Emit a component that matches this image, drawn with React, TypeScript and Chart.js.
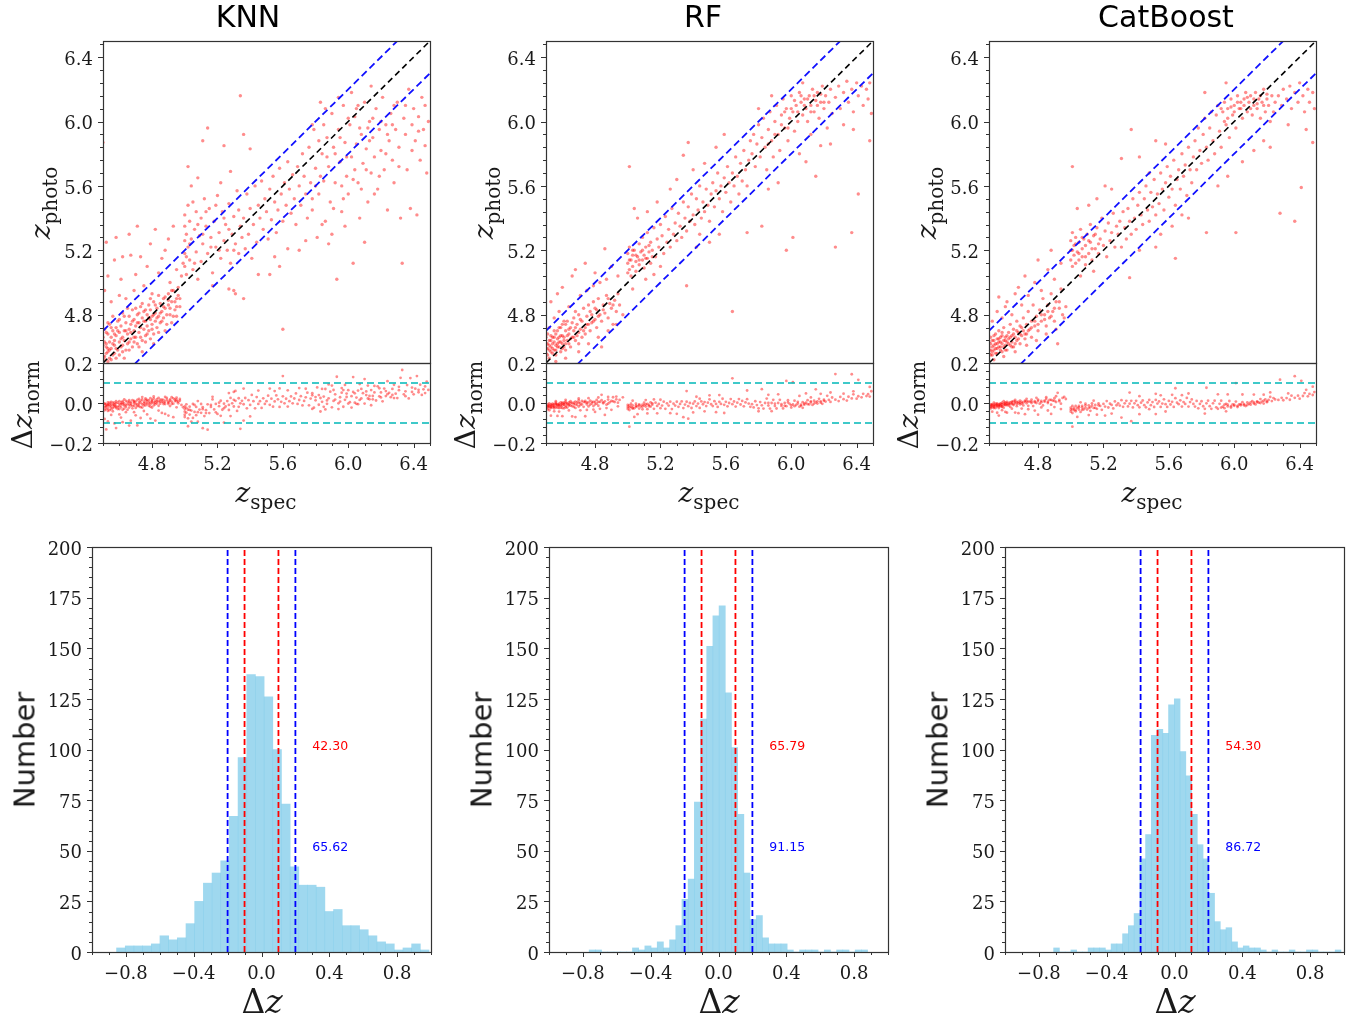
import React, { useEffect, useRef } from "react";
import { Chart, registerables } from "chart.js";
Chart.register(...registerables);

// ---------------- data ----------------
const modelNames = ["KNN", "RF", "CatBoost"];

// [z_spec, z_photo]
const knnPoints: [number, number][] = [
  [4.50,4.58],[4.50,4.66],[4.51,4.54],[4.51,4.71],[4.52,4.62],[4.52,4.60],[4.53,4.68],[4.53,4.57],[4.54,4.74],[4.54,4.63],
  [4.55,4.59],[4.55,4.66],[4.56,4.70],[4.56,4.55],[4.57,4.64],[4.57,4.61],[4.58,4.72],[4.58,4.67],[4.59,4.58],[4.59,4.76],
  [4.60,4.63],[4.60,4.69],[4.61,4.60],[4.61,4.73],[4.62,4.66],[4.62,4.81],[4.63,4.64],[4.63,4.70],[4.64,4.58],[4.64,4.75],
  [4.65,4.68],[4.65,4.62],[4.66,4.79],[4.66,4.71],[4.67,4.65],[4.67,4.74],[4.68,4.60],[4.68,4.83],[4.69,4.70],[4.69,4.77],
  [4.70,4.66],[4.70,4.73],[4.71,4.80],[4.71,4.62],[4.72,4.75],[4.72,4.69],[4.73,4.85],[4.73,4.72],[4.74,4.64],[4.74,4.78],
  [4.75,4.71],[4.75,4.82],[4.76,4.76],[4.76,4.67],[4.77,4.80],[4.77,4.73],[4.78,4.86],[4.78,4.70],[4.79,4.77],[4.79,4.83],
  [4.80,4.74],[4.80,4.79],[4.81,4.88],[4.81,4.68],[4.82,4.81],[4.82,4.76],[4.83,4.84],[4.83,4.72],[4.84,4.79],[4.85,4.87],
  [4.85,4.75],[4.86,4.82],[4.87,4.78],[4.87,4.90],[4.88,4.84],[4.89,4.74],[4.90,4.86],[4.90,4.93],[4.91,4.80],[4.92,4.88],
  [4.93,4.95],[4.94,4.83],[4.95,4.90],[4.96,4.97],[4.97,4.85],
  [4.51,4.52],[4.52,4.56],[4.53,4.51],[4.54,4.53],[4.55,4.52],[4.57,4.56],[4.58,4.53],[4.60,4.55],[4.62,4.57],[4.63,4.53],
  [4.66,4.58],[4.69,4.63],[4.72,4.60],[4.76,4.63],[4.79,4.65],[4.84,4.69],[4.88,4.70],[4.92,4.75],[4.95,4.79],[4.74,4.57],[4.81,4.62],
  [4.50,4.61],[4.50,4.54],[4.51,4.63],[4.52,4.69],[4.53,4.59],[4.53,4.75],[4.54,4.58],[4.55,4.72],[4.56,4.62],[4.56,4.79],
  [4.57,4.68],[4.58,4.59],[4.59,4.70],[4.60,4.77],[4.61,4.65],[4.62,4.61],[4.63,4.79],[4.64,4.70],[4.65,4.84],[4.66,4.63],
  [4.67,4.69],[4.68,4.76],[4.69,4.66],[4.70,4.84],[4.71,4.75],[4.72,4.81],[4.73,4.66],[4.74,4.87],[4.75,4.76],[4.76,4.83],
  [4.77,4.68],[4.78,4.78],[4.79,4.90],[4.80,4.71],[4.81,4.80],[4.82,4.86],[4.83,4.78],[4.84,4.92],[4.85,4.81],[4.86,4.76],
  [4.87,4.85],[4.88,4.91],[4.89,4.80],[4.90,4.89],[4.91,4.84],[4.92,4.95],[4.93,4.79],[4.94,4.88],[4.95,4.85],[4.96,4.92],
  [4.51,4.95],[4.52,5.25],[4.53,5.04],[4.55,4.88],[4.57,5.14],[4.58,5.28],[4.60,4.92],[4.61,5.02],[4.62,5.16],[4.64,4.90],
  [4.66,5.30],[4.67,5.17],[4.69,4.95],[4.70,5.05],[4.71,5.35],[4.73,5.16],[4.75,4.98],[4.77,5.10],[4.79,5.24],[4.80,4.93],
  [4.82,5.33],[4.84,5.06],[4.86,5.15],[4.88,5.20],[4.90,5.27],[4.91,5.00],[4.93,5.35],[4.95,5.08],[4.50,5.87],
  [5.00,5.10],[5.00,5.18],[5.00,5.26],[5.00,5.35],[5.00,5.42],[5.01,5.05],[5.01,5.30],[5.02,5.22],[5.02,5.48],[5.03,5.14],
  [5.03,5.38],[5.04,5.27],[5.05,5.50],[5.05,5.08],[5.06,5.33],[5.07,5.19],[5.07,5.44],[5.08,5.02],[5.09,5.29],[5.10,5.40],
  [5.10,5.13],[5.11,5.24],[5.12,5.52],[5.13,5.35],[5.14,5.18],[5.15,5.46],[5.16,5.28],[5.17,5.06],[5.18,5.38],[5.19,5.22],
  [5.20,5.54],[5.21,5.31],[5.22,5.15],[5.23,5.44],[5.24,5.26],[5.25,5.36],[5.26,5.20],[5.27,5.49],[5.28,5.12],[5.29,5.30],
  [5.30,5.41],[5.31,5.24],[5.32,5.57],[5.33,5.18],[5.34,5.35],[5.35,5.28],[5.02,5.72],[5.04,5.60],[5.08,5.65],[5.14,5.96],
  [5.11,5.88],[5.24,5.85],[5.34,6.16],[5.36,5.92],[5.17,4.98],[5.27,4.96],[5.30,4.95],[5.22,5.62],[5.28,5.69],[5.40,5.83],
  [5.01,5.16],[5.03,5.24],[5.06,5.12],[5.08,5.36],[5.11,5.30],[5.13,5.44],[5.16,5.22],[5.19,5.48],[5.21,5.20],[5.24,5.40],
  [5.27,5.33],[5.30,5.20],[5.33,5.45],
  [4.98,5.04],[4.99,5.12],[4.97,4.90],
  [5.36,5.40],[5.37,5.21],[5.38,5.55],[5.39,5.30],[5.40,5.46],[5.41,5.15],[5.42,5.36],[5.43,5.60],[5.44,5.25],[5.45,5.48],
  [5.46,5.40],[5.47,5.63],[5.48,5.33],[5.49,5.52],[5.50,5.44],[5.51,5.27],[5.52,5.58],[5.53,5.39],[5.54,5.66],[5.55,5.50],
  [5.56,5.31],[5.57,5.45],[5.58,5.71],[5.59,5.55],[5.60,5.38],[5.61,5.62],[5.62,5.48],[5.63,5.75],[5.64,5.58],[5.65,5.43],
  [5.66,5.67],[5.67,5.52],[5.68,5.36],[5.69,5.72],[5.70,5.60],[5.71,5.48],[5.72,5.80],[5.73,5.66],[5.74,5.55],[5.75,5.40],
  [5.31,4.93],[5.36,4.90],[5.52,5.05],[5.58,5.10],[5.60,4.71],[5.55,5.16],[5.63,5.21],[5.45,5.05],
  [5.76,5.84],[5.77,5.62],[5.78,5.45],[5.79,5.95],[5.80,5.71],[5.81,5.28],[5.82,5.55],[5.83,6.12],[5.84,5.80],[5.85,5.63],
  [5.86,5.38],[5.87,5.90],[5.88,5.72],[5.89,5.50],[5.90,6.05],[5.91,5.84],[5.92,5.62],[5.93,5.02],[5.94,5.95],[5.95,5.75],
  [5.96,5.44],[5.97,6.10],[5.98,5.87],[5.99,5.66],[6.00,5.55],[6.01,5.98],[6.02,5.78],[6.03,5.12],[6.04,6.03],[6.05,5.86],
  [6.06,5.62],[6.07,5.40],[6.08,5.92],[6.09,5.74],[6.10,6.12],[6.11,5.83],[6.12,5.50],[6.13,6.00],[6.14,5.68],[6.15,5.90],
  [6.16,5.78],[6.17,6.08],[6.18,5.58],[6.19,5.95],[6.20,5.82],[6.21,6.15],[6.22,5.70],[6.23,5.98],[6.24,5.45],[6.25,5.88],
  [6.26,6.05],[6.27,5.76],[6.28,5.62],[6.29,5.95],[6.30,6.12],[6.31,5.84],[6.32,5.40],[6.33,5.12],[6.34,6.02],[6.35,5.92],
  [6.36,5.70],[6.37,6.20],[6.38,5.46],[6.39,5.98],[6.40,6.08],[6.41,5.88],[6.42,5.42],[6.43,6.03],[6.44,5.76],[6.45,6.15],
  [6.46,5.95],[6.47,6.10],[6.48,5.68],[6.49,6.00],
  [5.78,5.98],[5.82,5.88],[5.86,6.08],[5.90,5.30],[5.94,6.15],[5.98,5.35],[6.02,6.18],[6.06,6.10],[6.10,5.25],[6.14,6.22],
  [5.84,5.36],[5.88,5.24],[5.96,5.60],[6.00,6.02],[6.04,5.70],[6.08,5.58],[6.12,5.96],[6.16,5.55],[6.20,6.00],[6.24,5.92],
  [5.92,5.80],[5.80,5.60],[5.74,5.26],[5.70,5.20],[6.28,6.10],
  [5.78,5.52],[5.83,5.66],[5.87,5.78],[5.91,5.46],[5.95,5.90],[5.99,5.78],[6.03,5.64],[6.07,5.96],[6.11,5.70],[6.15,6.02],
  [6.19,5.66],[6.23,5.80],[6.27,5.98],[6.31,5.72],[6.35,6.10],[6.39,5.82],[6.43,5.94],[6.47,5.85],[5.85,5.98],[5.97,5.52],
  [6.05,6.08],[6.13,5.88],
];

const rfPoints: [number, number][] = [
  [4.50,4.56],[4.50,4.62],[4.51,4.59],[4.51,4.68],[4.52,4.53],[4.52,4.64],[4.53,4.60],[4.53,4.57],[4.54,4.66],[4.54,4.62],
  [4.55,4.58],[4.55,4.70],[4.56,4.61],[4.56,4.55],[4.57,4.65],[4.57,4.60],[4.58,4.72],[4.58,4.63],[4.59,4.57],[4.59,4.67],
  [4.60,4.62],[4.60,4.74],[4.61,4.60],[4.61,4.66],[4.62,4.70],[4.62,4.58],[4.63,4.64],[4.63,4.76],[4.64,4.68],[4.64,4.62],
  [4.65,4.72],[4.65,4.60],[4.66,4.66],[4.67,4.78],[4.67,4.70],[4.68,4.64],[4.69,4.74],[4.69,4.67],[4.70,4.80],[4.70,4.62],
  [4.71,4.71],[4.72,4.76],[4.72,4.66],[4.73,4.84],[4.74,4.72],[4.74,4.68],[4.75,4.79],[4.76,4.74],[4.76,4.86],[4.77,4.70],
  [4.78,4.80],[4.78,4.75],[4.79,4.88],[4.80,4.77],[4.81,4.83],[4.81,4.72],[4.82,4.90],[4.83,4.80],[4.84,4.76],[4.85,4.86],
  [4.86,4.81],[4.87,4.92],[4.88,4.78],[4.89,4.87],[4.90,4.84],[4.91,4.74],[4.92,4.89],[4.93,4.82],[4.94,4.93],[4.95,4.86],
  [4.50,4.59],[4.50,4.66],[4.51,4.55],[4.51,4.62],[4.52,4.58],[4.52,4.61],[4.53,4.64],[4.53,4.67],[4.54,4.59],[4.54,4.56],
  [4.55,4.63],[4.55,4.66],[4.56,4.58],[4.56,4.68],[4.57,4.62],[4.57,4.70],[4.58,4.60],[4.58,4.66],[4.59,4.63],[4.59,4.72],
  [4.60,4.59],[4.60,4.67],[4.61,4.64],[4.62,4.62],[4.62,4.74],[4.63,4.67],[4.64,4.71],[4.65,4.65],[4.66,4.75],[4.67,4.66],
  [4.68,4.72],[4.70,4.69],[4.71,4.77],[4.73,4.70],[4.75,4.74],[4.77,4.82],[4.79,4.76],[4.80,4.84],[4.82,4.79],[4.85,4.83],
  [4.88,4.90],[4.91,4.86],
  [4.52,4.72],[4.55,4.78],[4.58,4.82],[4.61,4.76],[4.64,4.85],[4.68,4.82],[4.71,4.92],[4.75,4.95],[4.79,4.98],[4.83,5.00],
  [4.87,5.02],[4.53,4.88],[4.57,4.93],[4.60,4.97],[4.66,5.04],[4.68,5.08],[4.74,5.12],[4.80,5.06],[4.86,5.21],[4.90,5.10],
  [4.94,5.04],[4.49,5.28],[4.56,4.51],[4.62,4.53],[4.70,4.57],[4.76,4.62],[4.82,4.66],[4.88,4.70],[4.93,4.74],[4.97,4.80],[4.84,4.60],
  [5.00,5.06],[5.00,5.12],[5.00,5.18],[5.01,5.08],[5.01,5.22],[5.02,5.14],[5.02,5.04],[5.03,5.17],[5.03,5.10],[5.04,5.20],
  [5.04,5.46],[5.05,5.13],[5.05,5.07],[5.06,5.16],[5.07,5.24],[5.07,5.11],[5.08,5.19],[5.09,5.14],[5.09,5.28],[5.10,5.17],
  [5.10,5.09],[5.11,5.22],[5.12,5.15],[5.12,5.31],[5.13,5.19],[5.14,5.12],[5.14,5.25],[5.15,5.20],[5.16,5.34],[5.17,5.16],
  [5.18,5.27],[5.19,5.22],[5.20,5.36],[5.20,5.10],[5.01,5.72],[5.03,4.96],[5.06,5.40],[5.11,5.02],[5.16,5.05],
  [5.01,5.14],[5.03,5.20],[5.05,5.17],[5.07,5.14],[5.09,5.20],[5.11,5.15],[5.13,5.23],[5.15,5.16],
  [5.21,5.29],[5.22,5.18],[5.23,5.41],[5.24,5.25],[5.25,5.33],[5.26,5.22],[5.27,5.46],[5.28,5.30],[5.29,5.37],[5.30,5.26],
  [5.31,5.43],[5.32,5.35],[5.33,5.28],[5.34,5.50],[5.35,5.40],[5.36,5.32],[5.37,5.47],[5.38,5.38],[5.39,5.55],[5.40,5.42],
  [5.41,5.36],[5.42,5.52],[5.43,5.45],[5.44,5.60],[5.45,5.40],[5.46,5.50],[5.47,5.44],[5.48,5.58],[5.49,5.48],[5.50,5.38],
  [5.51,5.55],[5.52,5.62],[5.53,5.47],[5.54,5.57],[5.55,5.68],[5.56,5.52],[5.57,5.60],[5.58,5.44],[5.59,5.65],[5.60,5.56],
  [5.61,5.72],[5.62,5.62],[5.63,5.50],[5.64,5.68],[5.65,5.60],[5.66,5.78],[5.67,5.66],[5.68,5.55],[5.69,5.74],[5.70,5.63],
  [5.71,5.82],[5.72,5.70],[5.73,5.60],[5.74,5.76],[5.75,5.88],
  [5.36,4.98],[5.37,5.87],[5.34,5.79],[5.42,5.22],[5.50,5.25],[5.56,5.30],[5.64,4.82],[5.73,5.31],[5.82,5.35],[5.26,5.58],
  [5.30,5.64],[5.18,5.50],[5.12,5.44],[5.40,5.70],[5.47,5.74],[5.59,5.92],[5.54,5.84],[5.44,5.30],
  [5.76,5.80],[5.77,5.92],[5.78,5.72],[5.79,5.86],[5.80,5.98],[5.81,5.78],[5.82,5.90],[5.83,6.02],[5.84,5.84],[5.85,5.70],
  [5.86,5.95],[5.87,6.06],[5.88,5.88],[5.89,5.78],[5.90,6.00],[5.91,6.10],[5.92,5.92],[5.93,5.82],[5.94,6.04],[5.95,6.14],
  [5.96,5.96],[5.97,6.08],[5.98,5.88],[5.99,6.02],[6.00,6.16],[6.01,6.06],[6.02,5.94],[6.03,6.10],[6.04,6.00],[6.05,6.18],
  [6.06,6.12],[6.07,6.04],[6.08,6.14],[6.09,6.08],[6.10,6.00],[6.11,6.16],[6.12,6.10],[6.13,6.20],[6.14,6.06],[6.15,6.13],
  [6.16,6.18],[6.17,6.02],[6.18,6.12],[6.19,6.22],[6.20,6.08],[6.21,6.16],[6.22,5.96],[6.23,6.12],[6.24,6.20],[6.25,6.05],
  [6.00,6.08],[6.02,6.13],[6.04,6.06],[6.06,6.16],[6.08,6.10],[6.10,6.14],[6.12,6.06],[6.14,6.16],[6.16,6.10],[6.18,6.17],
  [6.20,6.12],[5.94,5.98],[5.96,6.06],[5.98,5.96],[5.90,5.92],[5.86,5.86],
  [5.97,5.20],[6.01,5.28],[6.09,5.75],[6.15,5.66],[6.27,5.22],[6.24,5.86],[5.92,5.62],[5.86,5.58],[6.05,5.80],[6.18,5.85],
  [5.80,6.08],[5.88,6.16],[6.07,6.24],[6.12,5.92],
  [6.27,6.15],[6.29,6.22],[6.30,6.08],[6.32,6.18],[6.34,6.25],[6.35,6.12],[6.37,6.20],[6.38,6.06],[6.40,6.24],[6.41,6.16],
  [6.43,6.22],[6.44,6.10],[6.46,6.20],[6.47,6.14],[6.48,6.24],[6.49,6.05],[6.37,5.31],[6.41,5.55],[6.48,5.88],[6.32,5.98],[6.38,5.95],
];

const cbPoints: [number, number][] = [
  [4.50,4.58],[4.50,4.63],[4.51,4.55],[4.51,4.66],[4.52,4.60],[4.52,4.57],[4.53,4.64],[4.53,4.61],[4.54,4.56],[4.54,4.68],
  [4.55,4.62],[4.55,4.59],[4.56,4.65],[4.56,4.70],[4.57,4.60],[4.57,4.63],[4.58,4.67],[4.58,4.57],[4.59,4.64],[4.59,4.72],
  [4.60,4.61],[4.60,4.66],[4.61,4.63],[4.61,4.58],[4.62,4.69],[4.62,4.65],[4.63,4.74],[4.63,4.61],[4.64,4.67],[4.64,4.63],
  [4.65,4.71],[4.65,4.60],[4.66,4.66],[4.67,4.76],[4.67,4.64],[4.68,4.69],[4.69,4.73],[4.69,4.62],[4.70,4.67],[4.71,4.78],
  [4.71,4.70],[4.72,4.65],[4.73,4.74],[4.73,4.68],[4.74,4.82],[4.75,4.71],[4.76,4.76],[4.76,4.66],[4.77,4.86],[4.78,4.73],
  [4.79,4.79],[4.80,4.70],[4.81,4.83],[4.82,4.76],[4.83,4.90],[4.84,4.80],[4.85,4.73],[4.86,4.86],[4.87,4.78],[4.88,4.93],
  [4.89,4.82],[4.90,4.76],[4.91,4.88],[4.92,4.62],[4.93,4.84],[4.94,4.96],[4.95,4.80],
  [4.50,4.60],[4.50,4.56],[4.51,4.62],[4.51,4.58],[4.52,4.64],[4.52,4.55],[4.53,4.58],[4.53,4.67],[4.54,4.62],[4.54,4.59],
  [4.55,4.65],[4.55,4.56],[4.56,4.60],[4.56,4.63],[4.57,4.66],[4.57,4.58],[4.58,4.62],[4.58,4.69],[4.59,4.60],[4.60,4.64],
  [4.60,4.58],[4.61,4.67],[4.62,4.62],[4.63,4.66],[4.64,4.60],[4.65,4.68],[4.66,4.62],[4.67,4.70],[4.68,4.65],[4.69,4.68],
  [4.70,4.72],[4.72,4.68],[4.74,4.70],[4.76,4.72],[4.78,4.76],[4.80,4.74],[4.82,4.80],[4.84,4.77],[4.86,4.82],[4.88,4.79],
  [4.90,4.84],[4.93,4.88],
  [4.52,4.76],[4.55,4.82],[4.58,4.78],[4.61,4.88],[4.64,4.80],[4.68,4.97],[4.70,4.86],[4.74,4.92],[4.78,5.00],[4.82,4.95],
  [4.86,5.08],[4.90,5.02],[4.94,5.12],[4.49,5.19],[4.56,4.91],[4.60,4.85],[4.66,4.93],[4.72,5.04],[4.80,5.14],[4.88,5.20],
  [4.53,4.52],[4.59,4.54],[4.66,4.57],[4.73,4.61],[4.79,4.64],[4.85,4.68],[4.91,4.71],[4.97,4.85],[4.96,4.78],
  [5.00,5.14],[5.00,5.20],[5.00,5.26],[5.01,5.10],[5.01,5.31],[5.02,5.17],[5.02,5.23],[5.03,5.12],[5.03,5.28],[5.04,5.19],
  [5.05,5.25],[5.05,5.14],[5.06,5.33],[5.07,5.21],[5.07,5.16],[5.08,5.27],[5.09,5.11],[5.09,5.23],[5.10,5.30],[5.11,5.18],
  [5.12,5.25],[5.12,5.36],[5.13,5.14],[5.14,5.29],[5.15,5.21],[5.16,5.34],[5.17,5.18],[5.18,5.27],[5.19,5.40],[5.20,5.23],
  [5.21,5.32],[5.22,5.16],[5.23,5.37],[5.24,5.26],[5.25,5.31],[5.26,5.43],[5.27,5.22],[5.28,5.35],[5.29,5.30],[5.30,5.38],
  [5.01,5.20],[5.03,5.24],[5.05,5.18],[5.07,5.28],[5.09,5.16],[5.11,5.26],[5.13,5.21],[5.15,5.30],[5.17,5.24],
  [5.01,5.72],[5.04,5.46],[5.11,5.48],[5.16,5.52],[5.21,5.60],[5.25,5.58],[5.06,5.04],[5.14,5.07],
  [5.31,5.22],[5.32,5.44],[5.33,5.34],[5.34,5.27],[5.35,5.46],[5.36,5.38],[5.37,5.30],[5.38,5.52],[5.39,5.40],[5.40,5.33],
  [5.41,5.48],[5.42,5.56],[5.43,5.42],[5.44,5.36],[5.45,5.52],[5.46,5.60],[5.47,5.45],[5.48,5.38],[5.49,5.56],[5.50,5.47],
  [5.51,5.64],[5.52,5.42],[5.53,5.55],[5.54,5.49],[5.55,5.68],[5.56,5.58],[5.57,5.45],[5.58,5.62],[5.59,5.72],[5.60,5.53],
  [5.61,5.66],[5.62,5.58],[5.63,5.76],[5.64,5.48],[5.65,5.64],[5.66,5.70],[5.67,5.58],[5.68,5.80],[5.69,5.66],[5.70,5.73],
  [5.71,5.54],[5.72,5.84],[5.73,5.70],[5.74,5.62],[5.75,5.78],
  [5.37,5.95],[5.31,5.77],[5.42,5.78],[5.36,5.03],[5.64,5.15],[5.48,5.68],[5.52,5.88],[5.58,5.86],[5.42,5.20],[5.55,5.30],
  [5.62,5.35],[5.68,5.42],[5.72,5.40],[5.52,5.22],
  [5.76,5.88],[5.77,5.70],[5.78,5.96],[5.79,5.82],[5.80,5.74],[5.81,5.92],[5.82,6.02],[5.83,5.84],[5.84,5.76],[5.85,5.96],
  [5.86,6.06],[5.87,5.88],[5.88,5.80],[5.89,6.04],[5.90,6.10],[5.91,5.94],[5.92,5.84],[5.93,6.06],[5.94,6.12],[5.95,5.98],
  [5.96,6.08],[5.97,5.90],[5.98,6.14],[5.99,6.04],[6.00,6.10],[6.01,5.96],[6.02,6.16],[6.03,6.08],[6.04,6.12],[6.05,6.02],
  [6.06,6.14],[6.07,6.18],[6.08,6.06],[6.09,6.12],[6.10,6.16],[6.11,6.04],[6.12,6.10],[6.13,6.18],[6.14,6.08],[6.15,6.14],
  [6.16,6.02],[6.17,6.12],[6.18,6.20],[6.19,6.06],[6.20,6.14],[6.21,6.10],[6.22,6.00],[6.23,6.16],[6.24,6.06],[6.25,6.12],
  [6.00,6.06],[6.02,6.12],[6.04,6.08],[6.06,6.10],[6.08,6.15],[6.10,6.08],[6.12,6.14],[6.14,6.11],[6.16,6.16],[6.18,6.10],
  [6.20,6.17],[5.96,6.02],[5.98,6.09],[5.94,6.00],[5.92,6.08],
  [5.83,5.31],[6.01,5.31],[6.28,5.43],[6.37,5.38],[6.41,5.59],[6.48,5.87],[5.90,5.60],[5.96,5.66],[6.05,5.75],[6.12,5.82],
  [6.18,5.88],[5.82,6.18],[5.95,6.24],[6.22,5.84],
  [6.27,6.16],[6.29,6.10],[6.30,6.20],[6.32,6.14],[6.34,6.22],[6.35,6.08],[6.37,6.18],[6.39,6.12],[6.40,6.24],[6.42,6.16],
  [6.43,6.06],[6.45,6.20],[6.46,6.12],[6.48,6.18],[6.49,6.08],[6.33,5.98],[6.44,5.95],
];

// histograms of Δz: first bin edge, bin width, counts
const knnBinStart = -0.855;
const knnBinWidth = 0.0512;
const knnCounts = [2,3,3,3,4,8,6,7,14,25,34,39,45,67,96,137,136,126,100,73,42,33,33,32,20,21,13,13,11,8,5,4,1,2,4,1];
const rfBinStart = -0.763;
const rfBinWidth = 0.0365;
const rfCounts = [1,1,0,0,0,0,0,2,1,3,2,5,2,6,13,26,36,74,115,151,166,171,128,101,68,39,16,18,7,4,4,4,1,0,1,1,1,0,1,0,1,1,0,1,1];
const cbBinStart = -0.713;
const cbBinWidth = 0.0339;
const cbCounts = [2,0,0,1,0,0,2,2,2,1,4,4,9,13,19,46,58,107,110,108,122,125,99,87,68,53,46,29,15,11,12,5,2,3,2,2,1,0,1,0,0,1,0,0,1,1,0,0,0,1];

const within01 = ["42.30", "65.79", "54.30"];
const within02 = ["65.62", "91.15", "86.72"];
const textX = 0.3;
const textY01 = 100;
const textY02 = 50;

const zRange = [4.5, 6.5];
const zTicks = [4.8, 5.2, 5.6, 6.0, 6.4];
const bandOffset = 0.2;
const residRange = [-0.2, 0.2];
const residTicks = [-0.2, 0.0, 0.2];
const residLimit = 0.1;
const histXRange = [-1, 1];
const histXTicks = [-0.8, -0.4, 0.0, 0.4, 0.8];
const histYRange = [0, 200];
const histYTicks = [0, 25, 50, 75, 100, 125, 150, 175, 200];
const histInner = 0.1;
const histOuter = 0.2;

// ---------------- helpers ----------------
const fmt1 = (v: number) => (v < -1e-9 ? "\u2212" : "") + Math.abs(v).toFixed(1);
const fmt0 = (v: number) => String(Math.round(v));

function minorValues(anchor: number, step: number, min: number, max: number, majors: number[]) {
  const out: number[] = [];
  const kMin = Math.ceil((min - anchor) / step - 1e-6);
  const kMax = Math.floor((max - anchor) / step + 1e-6);
  for (let k = kMin; k <= kMax; k++) {
    const v = anchor + k * step;
    if (!majors.some((m) => Math.abs(m - v) < 1e-6)) out.push(v);
  }
  return out;
}

const mplFrame = {
  id: "mplFrame",
  afterDraw(chart: any, _args: any, opts: any) {
    const { ctx, chartArea: a, scales } = chart;
    ctx.save();
    ctx.strokeStyle = "#333";
    ctx.lineWidth = 1;
    const tick = (horiz: boolean, scale: any, vals: number[] | undefined, len: number) => {
      if (!vals) return;
      for (const v of vals) {
        const p = Math.round(scale.getPixelForValue(v)) + 0.5;
        ctx.beginPath();
        if (horiz) {
          ctx.moveTo(p, a.bottom);
          ctx.lineTo(p, a.bottom + len);
        } else {
          ctx.moveTo(a.left - len, p);
          ctx.lineTo(a.left, p);
        }
        ctx.stroke();
      }
    };
    tick(true, scales.x, opts.xMajor, 5);
    tick(true, scales.x, opts.xMinor, 3);
    tick(false, scales.y, opts.yMajor, 5);
    tick(false, scales.y, opts.yMinor, 3);
    ctx.lineWidth = 1.2;
    ctx.strokeRect(Math.round(a.left) + 0.5, Math.round(a.top) + 0.5, Math.round(a.right - a.left), Math.round(a.bottom - a.top));
    if (opts.texts) {
      ctx.font = "12.5px 'DejaVu Sans'";
      ctx.textAlign = "left";
      ctx.textBaseline = "alphabetic";
      for (const t of opts.texts) {
        ctx.fillStyle = t.color;
        ctx.fillText(t.text, scales.x.getPixelForValue(t.x), scales.y.getPixelForValue(t.y));
      }
    }
    ctx.restore();
  },
};

function linAxis(o: { min: number; max: number; ticks: number[]; fmt: (v: number) => string; size: number; horiz: boolean; show: boolean; pad?: number }) {
  return {
    type: "linear",
    min: o.min,
    max: o.max,
    offset: false,
    display: o.show,
    position: o.horiz ? "bottom" : "left",
    afterBuildTicks: (s: any) => {
      s.ticks = o.ticks.map((v) => ({ value: v }));
    },
    afterFit: (s: any) => {
      if (o.horiz) s.height = o.size;
      else s.width = o.size;
    },
    grid: { display: false, drawTicks: true, tickLength: 5 },
    border: { display: false },
    ticks: {
      color: "#1a1a1a",
      padding: o.pad ?? 5,
      labelOffset: o.horiz ? 0 : 3,
      font: { family: "'DejaVu Serif'", size: 18 },
      maxRotation: 0,
      autoSkip: false,
      callback: (v: any) => o.fmt(Number(v)),
    },
  };
}

function lineDs(pts: { x: number; y: number }[], color: string, dash: number[], width: number) {
  return {
    data: pts,
    showLine: true,
    borderColor: color,
    borderDash: dash,
    borderWidth: width,
    pointRadius: 0,
    fill: false,
    order: 0,
  };
}

type Box = { left: number; top: number; width: number; height: number; ml: number; mr: number; mt: number; mb: number };

function basicOptions(box: Box, extra: any) {
  return {
    animation: false,
    responsive: false,
    maintainAspectRatio: false,
    events: [],
    layout: { padding: { top: box.mt, right: box.mr, bottom: extra.padBottom ?? 0, left: 0 } },
    plugins: { legend: { display: false }, tooltip: { enabled: false }, mplFrame: extra.frame },
    scales: extra.scales,
  };
}

const pointColor = "rgba(255,0,0,0.45)";

function scatterConfig(points: [number, number][], box: Box) {
  const [lo, hi] = zRange;
  return {
    type: "scatter",
    data: {
      datasets: [
        lineDs([{ x: lo, y: lo }, { x: hi, y: hi }], "#000000", [6, 4], 1.6),
        lineDs([{ x: lo, y: lo + bandOffset }, { x: hi, y: hi + bandOffset }], "#1010ff", [7, 4], 1.8),
        lineDs([{ x: lo, y: lo - bandOffset }, { x: hi, y: hi - bandOffset }], "#1010ff", [7, 4], 1.8),
        {
          data: points.map(([s, p]) => ({ x: s, y: p })),
          pointRadius: 1.7,
          backgroundColor: pointColor,
          pointBackgroundColor: pointColor,
          pointBorderWidth: 0,
          borderWidth: 0,
          order: 1,
        },
      ],
    },
    options: basicOptions(box, {
      padBottom: box.mb,
      frame: { yMajor: zTicks, yMinor: minorValues(4.8, 0.08, lo, hi, zTicks) },
      scales: {
        x: linAxis({ min: lo, max: hi, ticks: zTicks, fmt: fmt1, size: 0, horiz: true, show: false }),
        y: linAxis({ min: lo, max: hi, ticks: zTicks, fmt: fmt1, size: box.ml, horiz: false, show: true }),
      },
    }),
    plugins: [mplFrame],
  };
}

function residualConfig(points: [number, number][], box: Box) {
  const [lo, hi] = zRange;
  const resid = points.map(([s, p]) => ({ x: s, y: (s - p) / (1 + s) }));
  return {
    type: "scatter",
    data: {
      datasets: [
        lineDs([{ x: lo, y: residLimit }, { x: hi, y: residLimit }], "#00b8b8", [7, 4], 1.5),
        lineDs([{ x: lo, y: -residLimit }, { x: hi, y: -residLimit }], "#00b8b8", [7, 4], 1.5),
        {
          data: resid,
          pointRadius: 1.4,
          backgroundColor: pointColor,
          pointBackgroundColor: pointColor,
          pointBorderWidth: 0,
          borderWidth: 0,
          order: 1,
        },
      ],
    },
    options: basicOptions(box, {
      frame: {
        xMajor: zTicks,
        xMinor: minorValues(4.8, 0.1, lo, hi, zTicks),
        yMajor: residTicks,
        yMinor: minorValues(0, 0.04, residRange[0], residRange[1], residTicks),
      },
      scales: {
        x: linAxis({ min: lo, max: hi, ticks: zTicks, fmt: fmt1, size: box.mb, horiz: true, show: true, pad: 7 }),
        y: linAxis({ min: residRange[0], max: residRange[1], ticks: residTicks, fmt: fmt1, size: box.ml, horiz: false, show: true }),
      },
    }),
    plugins: [mplFrame],
  };
}

function histConfig(start: number, width: number, counts: number[], t01: string, t02: string, box: Box) {
  const [y0, y1] = histYRange;
  const vline = (x: number, color: string) => lineDs([{ x, y: y0 }, { x, y: y1 }], color, [6, 3], 1.8);
  return {
    type: "bar",
    data: {
      datasets: [
        { ...vline(-histOuter, "#0000ff"), type: "line" },
        { ...vline(histOuter, "#0000ff"), type: "line" },
        { ...vline(-histInner, "#ff0000"), type: "line" },
        { ...vline(histInner, "#ff0000"), type: "line" },
        {
          type: "bar",
          data: counts.map((c, i) => ({ x: start + (i + 0.5) * width, y: c })),
          backgroundColor: "rgba(135,206,235,0.8)",
          borderWidth: 0,
          barPercentage: 1,
          categoryPercentage: 1,
          order: 1,
        },
      ],
    },
    options: basicOptions(box, {
      frame: {
        xMajor: histXTicks,
        xMinor: minorValues(0, 0.1, histXRange[0], histXRange[1], histXTicks),
        yMajor: histYTicks,
        yMinor: minorValues(0, 5, y0, y1, histYTicks),
        texts: [
          { x: textX, y: textY01, text: t01, color: "#ff0000" },
          { x: textX, y: textY02, text: t02, color: "#0000ff" },
        ],
      },
      scales: {
        x: linAxis({ min: histXRange[0], max: histXRange[1], ticks: histXTicks, fmt: fmt1, size: box.mb, horiz: true, show: true, pad: 7 }),
        y: linAxis({ min: y0, max: y1, ticks: histYTicks, fmt: fmt0, size: box.ml, horiz: false, show: true }),
      },
    }),
    plugins: [mplFrame],
  };
}

function ChartPanel({ box, make }: { box: Box; make: () => any }) {
  const ref = useRef<HTMLCanvasElement | null>(null);
  useEffect(() => {
    if (!ref.current) return;
    const chart = new Chart(ref.current, make());
    return () => chart.destroy();
  }, []);
  const W = box.width + box.ml + box.mr;
  const H = box.height + box.mt + box.mb;
  return (
    <div style={{ position: "absolute", left: box.left - box.ml, top: box.top - box.mt, width: W, height: H }}>
      <canvas ref={ref} width={W} height={H} style={{ width: W, height: H, display: "block" }} />
    </div>
  );
}

function Label({ x, y, rotate, style, children }: { x: number; y: number; rotate?: boolean; style?: any; children: any }) {
  return (
    <div
      style={{
        position: "absolute",
        left: x,
        top: y,
        transform: `translate(-50%,-50%)${rotate ? " rotate(-90deg)" : ""}`,
        whiteSpace: "nowrap",
        lineHeight: 1,
        color: "#1a1a1a",
        zIndex: 5,
        ...style,
      }}
    >
      {children}
    </div>
  );
}

const serif = "'DejaVu Serif', serif";
const sans = "'DejaVu Sans', sans-serif";

export default function App() {
  const scatterLeft = [103, 546, 989];
  const histLeft = [92, 549, 1005];
  const pts = [knnPoints, rfPoints, cbPoints];
  const hist = [
    [knnBinStart, knnBinWidth, knnCounts],
    [rfBinStart, rfBinWidth, rfCounts],
    [cbBinStart, cbBinWidth, cbCounts],
  ] as [number, number, number[]][];
  const titleX = [248, 703, 1166];

  return (
    <div style={{ position: "absolute", left: 0, top: 0, width: 1361, height: 1025, background: "#fff", overflow: "hidden" }}>
      {modelNames.map((name, i) => {
        const sBox: Box = { left: scatterLeft[i], top: 41, width: 327, height: 322, ml: 70, mr: 12, mt: 22, mb: 22 };
        const rBox: Box = { left: scatterLeft[i], top: 363, width: 327, height: 80, ml: 70, mr: 12, mt: 22, mb: 45 };
        const hBox: Box = { left: histLeft[i], top: 547, width: 339, height: 405, ml: 60, mr: 12, mt: 22, mb: 45 };
        const [hs, hw, hc] = hist[i];
        const cx = scatterLeft[i] + 163;
        const hx = histLeft[i] + 170;
        return (
          <React.Fragment key={name}>
            <ChartPanel box={sBox} make={() => scatterConfig(pts[i], sBox)} />
            <ChartPanel box={rBox} make={() => residualConfig(pts[i], rBox)} />
            <ChartPanel box={hBox} make={() => histConfig(hs, hw, hc, within01[i], within02[i], hBox)} />
            <Label x={titleX[i]} y={16.6} style={{ fontFamily: sans, fontSize: 30, color: "#000" }}>{name}</Label>
            <Label x={scatterLeft[i] - 62} y={203} rotate style={{ fontFamily: serif, fontSize: 28 }}>
              <i>z</i>
              <span style={{ fontSize: 20, position: "relative", top: 7 }}>photo</span>
            </Label>
            <Label x={scatterLeft[i] - 80} y={405} rotate style={{ fontFamily: serif, fontSize: 28 }}>
              {"\u0394"}
              <i>z</i>
              <span style={{ fontSize: 20, position: "relative", top: 7 }}>norm</span>
            </Label>
            <Label x={cx} y={493} style={{ fontFamily: serif, fontSize: 28 }}>
              <i>z</i>
              <span style={{ fontSize: 20, position: "relative", top: 7 }}>spec</span>
            </Label>
            <Label x={histLeft[i] - 67} y={750} rotate style={{ fontFamily: sans, fontSize: 29 }}>Number</Label>
            <Label x={hx} y={1001} style={{ fontFamily: serif, fontSize: 33 }}>
              {"\u0394"}
              <i>z</i>
            </Label>
          </React.Fragment>
        );
      })}
    </div>
  );
}
